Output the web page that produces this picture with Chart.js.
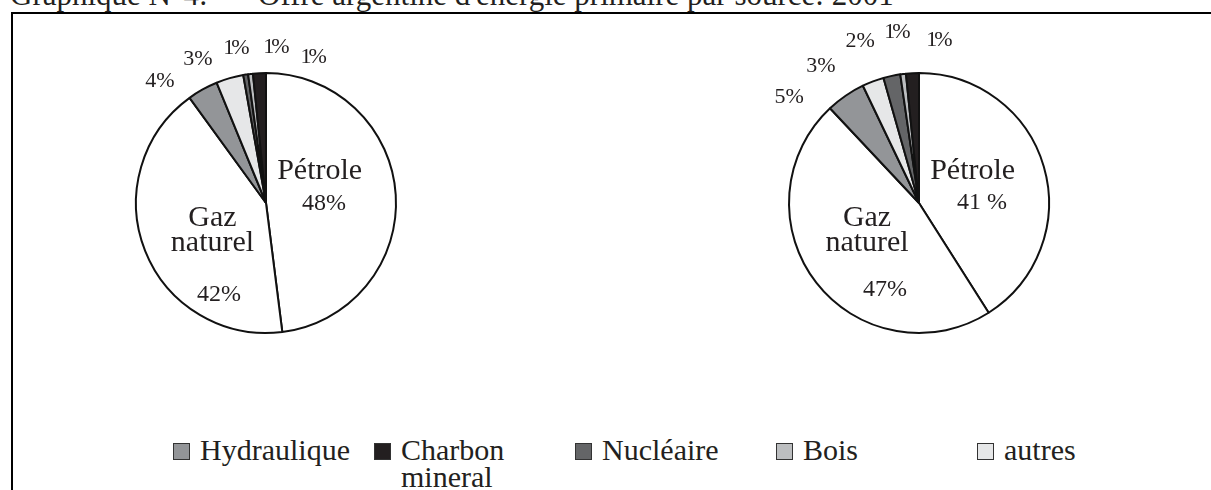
<!DOCTYPE html>
<html lang="fr">
<head>
<meta charset="utf-8">
<script src="https://cdn.jsdelivr.net/npm/chart.js@4.4.1/dist/chart.umd.min.js"></script>
<style>
    html, body {
        margin: 0;
        padding: 0;
        width: 1211px;
        height: 490px;
        overflow: hidden;
        background: #fff;
        font-family: "Liberation Serif", "Times New Roman", serif;
        color: #231f20;
    }
    .titre {
        position: absolute;
        top: -21px;
        font-size: 31px;
        line-height: 31px;
        white-space: nowrap;
    }
    .cadre {
        position: absolute;
        left: 11px;
        top: 12px;
        width: 1400px;
        height: 700px;
        border: 2px solid #000;
    }
    canvas {
        position: absolute;
        top: 3px;
    }
    .legende-item {
        position: absolute;
        top: 436px;
        font-size: 30px;
        line-height: 27px;
        white-space: pre-line;
    }
    .legende-item .carre {
        position: absolute;
        left: 0;
        top: 7px;
        width: 15px;
        height: 15px;
        border: 1px solid #333;
    }
    .legende-item .texte {
        display: block;
        margin-left: 27px;
    }
</style>
</head>
<body>
<div class="titre" style="left:10px">Graphique N°4:</div>
<div class="titre" style="left:258px">Offre argentine d'énergie primaire par source: 2001</div>
<div class="cadre"></div>
<canvas id="camembert-gauche" width="440" height="400" style="left:46px"></canvas>
<canvas id="camembert-droite" width="440" height="400" style="left:699px"></canvas>
<div id="legende"></div>

<script>
// Sources, dans l'ordre des parts (sens horaire depuis midi)
const categories = ["Pétrole", "Gaz naturel", "Hydraulique", "autres", "Nucléaire", "Bois", "Charbon mineral"];
const couleurs = ["#ffffff", "#ffffff", "#939598", "#e6e7e8", "#646567", "#bcbec0", "#231f20"];

// Parts (en %)
const valeursGauche = [48, 42, 3.8, 3.4, 0.6, 0.6, 1.6];
const valeursDroite = [41, 47, 4.9, 2.7, 2.1, 0.7, 1.6];

// Étiquettes affichées
const pourcentGauche = ["48%", "42%", "4%", "3%", "1%", "1%", "1%"];
const pourcentDroite = ["41 %", "47%", "5%", "3%", "2%", "1%", "1%"];

// Légende (sans pétrole ni gaz)
const legendeOrdre = ["Hydraulique", "Charbon mineral", "Nucléaire", "Bois", "autres"];
const legendeTextes = ["Hydraulique", "Charbon\nmineral", "Nucléaire", "Bois", "autres"];

// Placement des étiquettes : [angle depuis midi en degrés, distance en fraction du rayon]
const placeNomsGauche = [[59.3, 0.48], [242.8, 0.463]];
const placePctGauche = [[91, 0.446], [207.1, 0.795], [319, 1.243], [334.7, 1.225], [348.7, 1.216], [3.3, 1.202], [17.5, 1.178]];
const placeNomsDroite = [[59.3, 0.48], [241.7, 0.454]];
const placePctDroite = [[90, 0.485], [201.3, 0.718], [309.2, 1.29], [324.4, 1.295], [340, 1.326], [352.3, 1.327], [6.6, 1.262]];

const encre = "#231f20";

const etiquettesParts = {
    id: "etiquettesParts",
    afterDatasetsDraw (chart, args, opts) {
        const arc = chart.getDatasetMeta(0).data[0];
        const cx = arc.x, cy = arc.y, r = arc.outerRadius;
        const ctx = chart.ctx;

        const position = (place) => {
            const a = (place[0] - 90) * Math.PI / 180;
            return [cx + place[1] * r * Math.cos(a), cy + place[1] * r * Math.sin(a)];
        };

        ctx.save();
        ctx.fillStyle = encre;
        ctx.textAlign = "center";
        ctx.textBaseline = "middle";

        // noms des deux grandes parts
        ctx.font = '30px "Liberation Serif"';
        const noms = [["Pétrole"], ["Gaz", "naturel"]];
        for (let i = 0; i < noms.length; i++) {
            const [x, y] = position(opts.noms[i]);
            const lignes = noms[i];
            for (let j = 0; j < lignes.length; j++) {
                ctx.fillText(lignes[j], x, y + (j - (lignes.length - 1) / 2) * 25);
            }
        }

        // pourcentages
        for (let i = 0; i < opts.textes.length; i++) {
            ctx.font = i < 2 ? '24px "Liberation Serif"' : '22px "Liberation Serif"';
            // les "1%" sont plus serrés sur l'original
            ctx.letterSpacing = opts.textes[i].startsWith("1%") ? "-3px" : "0px";
            const [x, y] = position(opts.places[i]);
            ctx.fillText(opts.textes[i], x, y);
        }
        ctx.restore();
    }
};

function creerCamembert (id, valeurs, textes, noms, places) {
    new Chart(document.getElementById(id), {
        type: "pie",
        data: {
            labels: categories,
            datasets: [{
                data: valeurs,
                backgroundColor: couleurs,
                borderColor: "#111",
                borderWidth: 2,
            }]
        },
        options: {
            responsive: false,
            animation: false,
            radius: 130,
            layout: { padding: 0 },
            events: [],
            plugins: {
                legend: { display: false },
                tooltip: { enabled: false },
                etiquettesParts: { textes: textes, noms: noms, places: places },
            }
        },
        plugins: [etiquettesParts],
    });
}

creerCamembert("camembert-gauche", valeursGauche, pourcentGauche, placeNomsGauche, placePctGauche);
creerCamembert("camembert-droite", valeursDroite, pourcentDroite, placeNomsDroite, placePctDroite);

// Légende commune sous les deux camemberts
const legende = document.getElementById("legende");
for (let i = 0; i < legendeOrdre.length; i++) {
    const item = document.createElement("div");
    item.className = "legende-item";
    item.style.left = (173 + i * 201) + "px";

    const carre = document.createElement("span");
    carre.className = "carre";
    carre.style.background = couleurs[categories.indexOf(legendeOrdre[i])];

    const texte = document.createElement("span");
    texte.className = "texte";
    texte.textContent = legendeTextes[i];

    item.appendChild(carre);
    item.appendChild(texte);
    legende.appendChild(item);
}
</script>
</body>
</html>
